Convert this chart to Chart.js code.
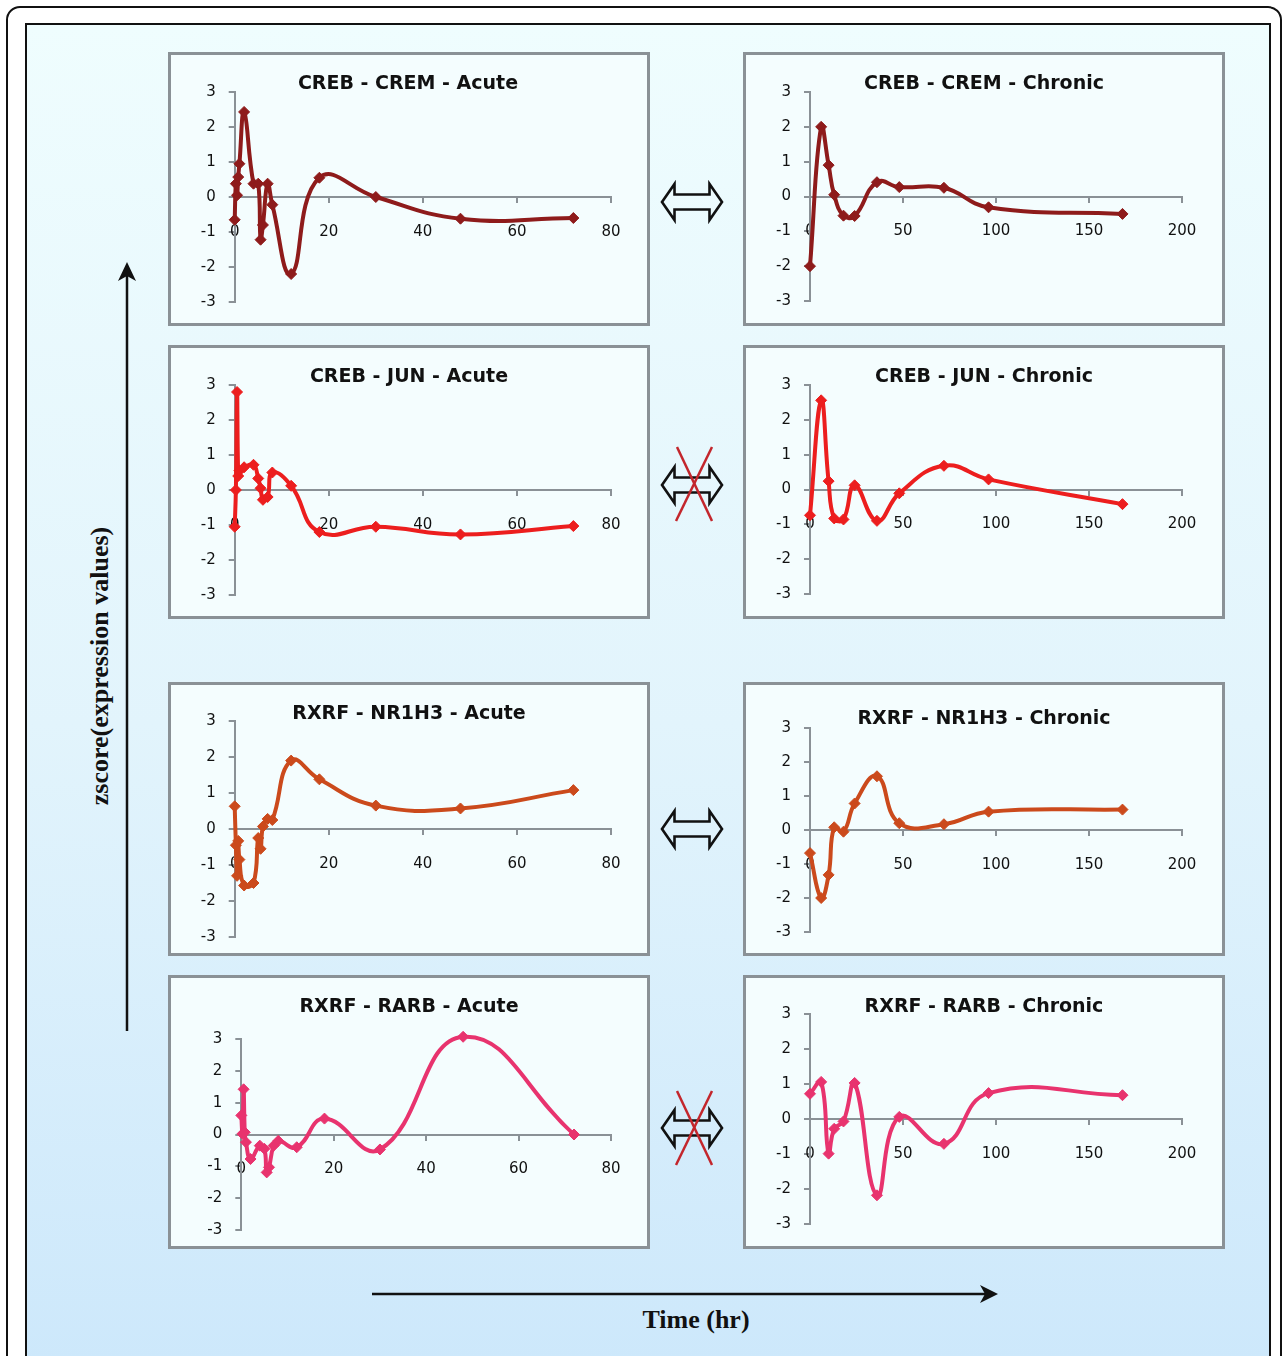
<!DOCTYPE html>
<html>
<head>
<meta charset="utf-8">
<script src="https://cdn.jsdelivr.net/npm/chart.js@4.4.0/dist/chart.umd.min.js"></script>
<style>
  html, body { margin: 0; padding: 0; background: #ffffff; }
  body { width: 1287px; height: 1356px; position: relative; overflow: hidden; font-family: "DejaVu Sans", sans-serif; }
  #outer { position: absolute; left: 6px; top: 6px; width: 1276px; height: 1400px; border: 2px solid #111; border-radius: 14px 14px 0 0; box-sizing: border-box; background: #fff; }
  #inner { position: absolute; left: 25px; top: 23px; width: 1246px; height: 1400px; border: 2.5px solid #111; box-sizing: border-box;
           background: linear-gradient(to bottom, #effdfe 0%, #e2f4fc 50%, #cbe7fb 100%); }
  .panel { position: absolute; width: 482px; height: 274px; box-sizing: border-box; border: 3px solid #8a9196; background: #f4fdfe; }
  canvas.ch { position: absolute; }
  .title { position: absolute; transform: translate(-50%, -50%); font-family: "DejaVu Sans", sans-serif; font-weight: bold; font-size: 19px; color: #111; white-space: nowrap; }
  #ylab { position: absolute; left: 100px; top: 666px; transform: translate(-50%, -50%) rotate(-90deg); font-family: "Liberation Serif", "Times New Roman", serif; font-weight: bold; font-size: 26px; color: #111; white-space: nowrap; }
  #xlab { position: absolute; left: 696px; top: 1320px; transform: translate(-50%, -50%); font-family: "Liberation Serif", "Times New Roman", serif; font-weight: bold; font-size: 26px; color: #111; white-space: nowrap; }
  svg#deco { position: absolute; left: 0; top: 0; }
</style>
</head>
<body>
<div id="outer"></div>
<div id="inner"></div>
<svg id="deco" width="1287" height="1356"></svg>
<div id="ylab">zscore(expression values)</div>
<div id="xlab">Time (hr)</div>
<script>
// ---------- DATA ----------
const acuteTimes   = [0, 0.25, 0.5, 0.75, 1, 2, 4, 5, 5.5, 6, 7, 8, 12, 18, 30, 48, 72];
const chronicTimes = [0, 6, 10, 13, 18, 24, 36, 48, 72, 96, 168];

const acuteTicks   = [0, 20, 40, 60, 80];
const chronicTicks = [0, 50, 100, 150, 200];
const yTicks       = [-3, -2, -1, 0, 1, 2, 3];

const titles = [
  "CREB - CREM - Acute", "CREB - CREM - Chronic",
  "CREB - JUN - Acute",  "CREB - JUN - Chronic",
  "RXRF - NR1H3 - Acute", "RXRF - NR1H3 - Chronic",
  "RXRF - RARB - Acute", "RXRF - RARB - Chronic"
];

const crebCremAcute   = [-0.65, 0.38, 0.05, 0.57, 0.95, 2.43, 0.38, 0.38, -1.22, -0.8, 0.38, -0.22, -2.2, 0.55, 0.0, -0.62, -0.6];
const crebCremChronic = [-2.0, 2.0, 0.9, 0.05, -0.55, -0.56, 0.41, 0.27, 0.25, -0.31, -0.5];
const crebJunAcute    = [-1.05, 0.0, 2.8, 0.4, 0.55, 0.65, 0.72, 0.33, 0.05, -0.28, -0.2, 0.5, 0.12, -1.2, -1.05, -1.27, -1.03];
const crebJunChronic  = [-0.74, 2.56, 0.24, -0.83, -0.86, 0.12, -0.9, -0.11, 0.68, 0.29, -0.42];
const rxrNr1h3Acute   = [0.63, -0.45, -1.3, -0.33, -0.85, -1.57, -1.5, -0.25, -0.55, 0.07, 0.28, 0.25, 1.9, 1.38, 0.65, 0.57, 1.08];
const rxrNr1h3Chronic = [-0.68, -2.0, -1.32, 0.08, -0.05, 0.78, 1.58, 0.2, 0.17, 0.54, 0.6];
const rxrRarbAcute    = [0.6, 0.02, 1.42, 0.07, -0.24, -0.77, -0.35, -0.45, -1.19, -1.03, -0.35, -0.2, -0.4, 0.5, -0.47, 3.07, 0.0];
const rxrRarbChronic  = [0.72, 1.06, -0.99, -0.28, -0.07, 1.03, -2.18, 0.06, -0.71, 0.74, 0.68];

const seriesList = [crebCremAcute, crebCremChronic, crebJunAcute, crebJunChronic,
                    rxrNr1h3Acute, rxrNr1h3Chronic, rxrRarbAcute, rxrRarbChronic];

// ---------- STYLE / LAYOUT ----------
const colors = ["#8e1b1b", "#8e1b1b", "#ec1e1e", "#ec1e1e", "#cb4a1c", "#cb4a1c", "#e8336e", "#e8336e"];
const PW = 482, PH = 274, YAXW = 45;
const layouts = [
  {left:168, top:52,  x0:234.7, x1:611,  yT:92,   yB:302,  tx:408, ty:82},
  {left:743, top:52,  x0:810,   x1:1182, yT:92,   yB:301,  tx:984, ty:82},
  {left:168, top:345, x0:234.7, x1:611,  yT:385,  yB:595,  tx:409, ty:375},
  {left:743, top:345, x0:810,   x1:1182, yT:385,  yB:594,  tx:984, ty:375},
  {left:168, top:682, x0:234.7, x1:611,  yT:721,  yB:937,  tx:409, ty:712},
  {left:743, top:682, x0:810,   x1:1182, yT:728,  yB:932,  tx:984, ty:717},
  {left:168, top:975, x0:241.3, x1:611,  yT:1039, yB:1230, tx:409, ty:1005},
  {left:743, top:975, x0:810,   x1:1182, yT:1014, yB:1224, tx:984, ty:1005}
];
const axisColor = "#8a9196";
const tickFont = {family: "DejaVu Sans", size: 15};

function buildChart(i) {
  const L = layouts[i];
  const acute = (i % 2 === 0);
  const times = acute ? acuteTimes : chronicTimes;
  const xt = acute ? acuteTicks : chronicTicks;
  const vals = seriesList[i];

  const panel = document.createElement('div');
  panel.className = 'panel';
  panel.style.left = L.left + 'px';
  panel.style.top = L.top + 'px';
  document.body.appendChild(panel);

  const cv = document.createElement('canvas');
  cv.className = 'ch';
  cv.width = PW; cv.height = PH;
  cv.style.left = L.left + 'px';
  cv.style.top = L.top + 'px';
  document.body.appendChild(cv);

  const t = document.createElement('div');
  t.className = 'title';
  t.textContent = titles[i];
  t.style.left = L.tx + 'px';
  t.style.top = L.ty + 'px';
  document.body.appendChild(t);

  const padding = {
    left: L.x0 - L.left - YAXW,
    right: L.left + PW - L.x1,
    top: L.yT - L.top,
    bottom: L.top + PH - L.yB
  };

  new Chart(cv, {
    type: 'line',
    data: {
      datasets: [{
        data: times.map((x, k) => ({x: x, y: vals[k]})),
        borderColor: colors[i],
        backgroundColor: colors[i],
        borderWidth: 4,
        pointStyle: 'rectRot',
        pointRadius: 5.5,
        pointBorderWidth: 1,
        tension: 0.45,
        clip: false,
        fill: false
      }]
    },
    options: {
      responsive: false,
      animation: false,
      events: [],
      layout: {padding: padding},
      plugins: {legend: {display: false}, tooltip: {enabled: false}, title: {display: false}},
      scales: {
        x: {
          type: 'linear',
          min: xt[0], max: xt[xt.length - 1],
          position: {y: 0},
          afterBuildTicks: s => { s.ticks = xt.map(v => ({value: v})); },
          ticks: {color: '#111', font: tickFont, padding: 21, maxRotation: 0, autoSkip: false},
          grid: {display: true, drawOnChartArea: false, drawTicks: true, tickLength: 5, color: axisColor, lineWidth: 2},
          border: {display: true, color: axisColor, width: 2},
          afterFit: s => { s.paddingLeft = 0; s.paddingRight = 0; s.paddingTop = 0; s.paddingBottom = 0; }
        },
        y: {
          type: 'linear',
          min: yTicks[0], max: yTicks[yTicks.length - 1],
          position: 'left',
          afterBuildTicks: s => { s.ticks = yTicks.map(v => ({value: v})); },
          ticks: {color: '#111', font: tickFont, padding: 13},
          grid: {display: true, drawOnChartArea: false, drawTicks: true, tickLength: 6, color: axisColor, lineWidth: 2},
          border: {display: true, color: axisColor, width: 2},
          afterFit: s => { s.width = YAXW; s.paddingTop = 0; s.paddingBottom = 0; }
        }
      }
    }
  });
}

for (let i = 0; i < 8; i++) buildChart(i);

// ---------- DECORATIONS (arrows) ----------
const NS = 'http://www.w3.org/2000/svg';
const svg = document.getElementById('deco');
function el(name, attrs) {
  const e = document.createElementNS(NS, name);
  for (const k in attrs) e.setAttribute(k, attrs[k]);
  svg.appendChild(e);
  return e;
}
// vertical axis arrow
el('line', {x1: 127, y1: 1031, x2: 127, y2: 276, stroke: '#111', 'stroke-width': 2.5});
el('path', {d: 'M127,262 L136,281 L127,276 L118,281 Z', fill: '#111'});
// horizontal time arrow
el('line', {x1: 372, y1: 1294, x2: 985, y2: 1294, stroke: '#111', 'stroke-width': 2.5});
el('path', {d: 'M998,1294 L980,1285 L985,1294 L980,1303 Z', fill: '#111'});

function dblArrow(cx, cy) {
  const d = `M${cx-30},${cy} L${cx-17.5},${cy-18} L${cx-17.5},${cy-7.5} L${cx+17.5},${cy-7.5} L${cx+17.5},${cy-18} L${cx+30},${cy} L${cx+17.5},${cy+18} L${cx+17.5},${cy+7.5} L${cx-17.5},${cy+7.5} L${cx-17.5},${cy+18} Z`;
  el('path', {d: d, fill: 'none', stroke: '#111', 'stroke-width': 2.6, 'stroke-linejoin': 'miter'});
}
function redX(cx, cy) {
  el('line', {x1: cx-17, y1: cy-37, x2: cx+18, y2: cy+37, stroke: '#c3262c', 'stroke-width': 2.5});
  el('line', {x1: cx+18, y1: cy-37, x2: cx-18, y2: cy+37, stroke: '#c3262c', 'stroke-width': 2.5});
}
dblArrow(692, 202);
dblArrow(692, 485); redX(694, 484);
dblArrow(692, 829);
dblArrow(692, 1128); redX(694, 1128);
</script>
</body>
</html>
